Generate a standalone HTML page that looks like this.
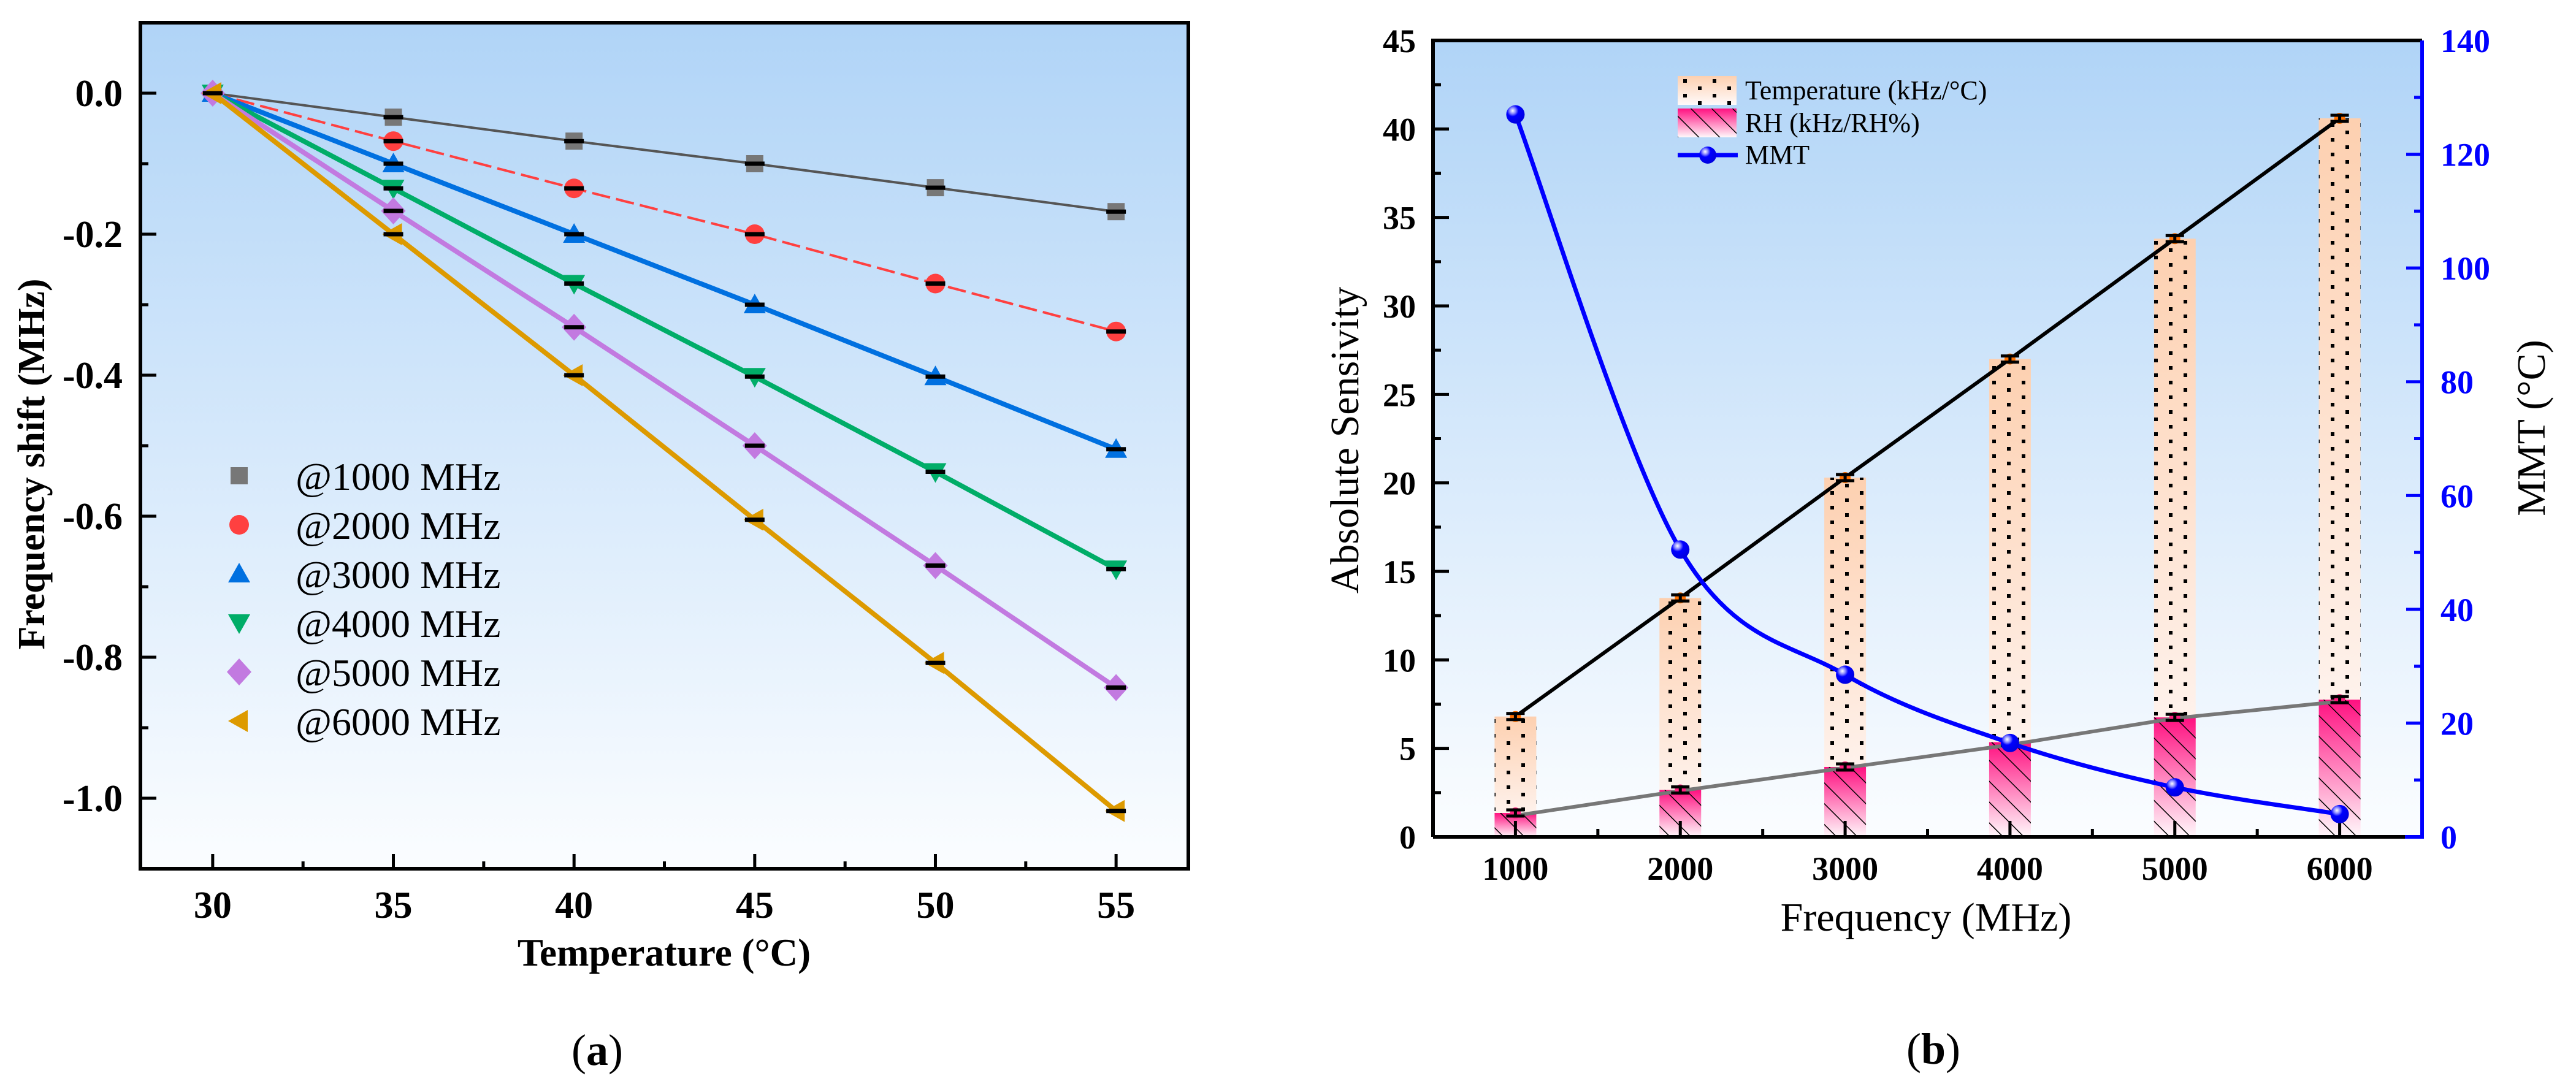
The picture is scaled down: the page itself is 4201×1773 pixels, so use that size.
<!DOCTYPE html>
<html><head><meta charset="utf-8">
<style>
html,body{margin:0;padding:0;background:#fff;}
svg{display:block;font-family:"Liberation Serif","DejaVu Serif",serif;}
</style></head>
<body>
<svg id="fig" width="4201" height="1773" viewBox="0 0 4201 1773" xmlns="http://www.w3.org/2000/svg">
<defs>
<linearGradient id="bg" x1="0" y1="0" x2="0" y2="1">
<stop offset="0" stop-color="#b0d4f7"/><stop offset="1" stop-color="#fbfdff"/>
</linearGradient>
<linearGradient id="tg" x1="0" y1="0" x2="0" y2="1">
<stop offset="0" stop-color="#fdd0b0"/><stop offset="1" stop-color="#fffafa"/>
</linearGradient>
<linearGradient id="rg" x1="0" y1="0" x2="0" y2="1">
<stop offset="0" stop-color="#ff1080"/><stop offset="1" stop-color="#fff8fb"/>
</linearGradient>
<pattern id="dots" patternUnits="userSpaceOnUse" width="48" height="24">
<rect x="9" y="9" width="6" height="6" fill="#000"/><rect x="33" y="-3" width="6" height="6" fill="#000"/><rect x="33" y="21" width="6" height="6" fill="#000"/>
</pattern>
<pattern id="hatch" patternUnits="userSpaceOnUse" width="24" height="24" patternTransform="rotate(-45)">
<line x1="0" y1="0" x2="0" y2="24" stroke="#000" stroke-width="3"/>
</pattern>
<radialGradient id="ball" cx="0.35" cy="0.3" r="0.7">
<stop offset="0" stop-color="#ffffff"/><stop offset="0.25" stop-color="#8080ff"/><stop offset="0.45" stop-color="#0000ff"/><stop offset="1" stop-color="#0000e0"/>
</radialGradient>
</defs>
<g id="pa"></g>
<g id="pb"></g>
</svg>
<script>
// ---------- Panel (a) data ----------
const tempsA = [30, 35, 40, 45, 50, 55];
const seriesNames = ["@1000 MHz","@2000 MHz","@3000 MHz","@4000 MHz","@5000 MHz","@6000 MHz"];
const s1000 = [0, -0.034, -0.068, -0.100, -0.134, -0.168];
const s2000 = [0, -0.068, -0.135, -0.200, -0.270, -0.338];
const s3000 = [0, -0.100, -0.200, -0.300, -0.402, -0.505];
const s4000 = [0, -0.135, -0.270, -0.402, -0.537, -0.675];
const s5000 = [0, -0.167, -0.332, -0.500, -0.670, -0.843];
const s6000 = [0, -0.200, -0.400, -0.605, -0.808, -1.018];
const xTicksA = [30, 35, 40, 45, 50, 55];
const yTicksA = [0, -0.2, -0.4, -0.6, -0.8, -1.0];
const yTickLabelsA = ["0.0","-0.2","-0.4","-0.6","-0.8","-1.0"];

// ---------- Panel (b) data ----------
const freqs = [1000, 2000, 3000, 4000, 5000, 6000];
const tempSens = [6.8, 13.5, 20.3, 27.0, 33.8, 40.6];
const rhSens = [1.35, 2.65, 3.95, 5.35, 6.75, 7.75];
const rhFit = [1.2, 2.6, 3.9, 5.2, 6.7, 7.65];
const mmt = [127, 50.5, 28.5, 16.5, 8.7, 4.0];
const yTicksB = [0,5,10,15,20,25,30,35,40,45];
const yTicksB2 = [0,20,40,60,80,100,120,140];

const NS = "http://www.w3.org/2000/svg";
function mk(parent, tag, attrs, text){
  const e = document.createElementNS(NS, tag);
  for (const k in attrs) e.setAttribute(k, attrs[k]);
  if (text !== undefined) e.textContent = text;
  parent.appendChild(e); return e;
}

// ===== Panel A =====
(function(){
  const g = document.getElementById('pa');
  const L=229, R=1938, T=37, B=1417;
  const xmin=28, xmax=57, ymin=-1.1, ymax=0.1;
  const X = v => L + (v - xmin) / (xmax - xmin) * (R - L);
  const Y = v => B - (v - ymin) / (ymax - ymin) * (B - T);
  const bg = mk(g,'rect',{x:L,y:T,width:R-L,height:B-T,fill:'url(#bg)'});
  
  
  for (let v = 30; v <= 55; v += 2.5) {
    const major = (v % 5 === 0);
    const t = mk(g,'line',{x1:X(v),x2:X(v),y1:B,y2:B-(major?24:12),stroke:'#000','stroke-width':5});
    
    
  }
  for (let v = 0; v >= -1.0001; v -= 0.1) {
    const major = Math.round(v*10) % 2 === 0;
    const t = mk(g,'line',{x1:L,x2:L+(major?26:13),y1:Y(v),y2:Y(v),stroke:'#000','stroke-width':5});
    
    
  }
  xTicksA.forEach(v=>{
    const t = mk(g,'text',{x:X(v),y:1497,'font-size':62,'font-weight':'bold','text-anchor':'middle'},String(v));
    
    
  });
  yTicksA.forEach((v,i)=>{
    const t = mk(g,'text',{x:200,y:Y(v)+21,'font-size':62,'font-weight':'bold','text-anchor':'end'},yTickLabelsA[i]);
    
    
  });
  const xt = mk(g,'text',{x:1083,y:1575,'font-size':63,'font-weight':'bold','text-anchor':'middle'},'Temperature (°C)');
  
  
  const yt = mk(g,'text',{x:0,y:0,'font-size':62,'font-weight':'bold','text-anchor':'middle',transform:'translate(72,'+((T+B)/2+30)+') rotate(-90)'},'Frequency shift (MHz)');
  
  
  const lab = mk(g,'text',{x:974,y:1737,'font-size':72,'text-anchor':'middle'});
  mk(lab,'tspan',{},'(');
  mk(lab,'tspan',{'font-weight':'bold'},'a');
  mk(lab,'tspan',{},')');
  
  

  const all = [s1000,s2000,s3000,s4000,s5000,s6000];
  const cols = ['#555555','#ff4040','#0070e0','#00ad68','#c27ae0','#dd9a00'];
  const lw = [4,4,8,8,8,8];
  function marker(par, k, cx, cy){
    const c = cols[k]; let m;
    if (k===0) m = mk(par,'rect',{x:cx-14,y:cy-14,width:28,height:28,fill:'#777'});
    else if (k===1) m = mk(par,'circle',{cx:cx,cy:cy,r:16,fill:c});
    else if (k===2) m = mk(par,'polygon',{points:`${cx},${cy-18} ${cx+18},${cy+14} ${cx-18},${cy+14}`,fill:c});
    else if (k===3) m = mk(par,'polygon',{points:`${cx},${cy+18} ${cx+18},${cy-14} ${cx-18},${cy-14}`,fill:c});
    else if (k===4) m = mk(par,'polygon',{points:`${cx},${cy-22} ${cx+20},${cy} ${cx},${cy+22} ${cx-20},${cy}`,fill:c});
    else m = mk(par,'polygon',{points:`${cx-18},${cy} ${cx+14},${cy-18} ${cx+14},${cy+18}`,fill:c});
    return m;
  }
  all.forEach((s,k)=>{
    const sg = mk(g,'g',{});
    
    
    const pts = s.map((v,i)=>X(tempsA[i])+','+Y(v)).join(' ');
    const ln = mk(sg,'polyline',{points:pts,fill:'none',stroke:cols[k],'stroke-width':lw[k],'stroke-dasharray':k===1?'30 10':'none'});
    
    
    s.forEach((v,i)=>{
      const m = marker(sg,k,X(tempsA[i]),Y(v));
      
      
      const e = mk(sg,'line',{x1:X(tempsA[i])-16,x2:X(tempsA[i])+16,y1:Y(v),y2:Y(v),stroke:'#000','stroke-width':7});
      
      
    });
  });
  const lg = mk(g,'g',{});
  
  
  seriesNames.forEach((n,k)=>{
    const cy = 776 + k*80;
    const m = marker(lg,k,390,cy);
    
    
    const t = mk(lg,'text',{x:482,y:cy+23,'font-size':64},n);
    
    
  });
  const fr = mk(g,'rect',{x:L,y:T,width:R-L,height:B-T,fill:'none',stroke:'#000','stroke-width':6});
  
  
})();

// ===== Panel B =====
(function(){
  const g = document.getElementById('pb');
  const L=2337, R=3950, T=66, B=1365;
  const xmin=500, xmax=6500;
  const X = v => L + (v - xmin)/(xmax-xmin)*(R-L);
  const Y = v => B - v/45*(B-T);
  const Y2 = v => B - v/140*(B-T);
  const bg = mk(g,'rect',{x:L,y:T,width:R-L,height:B-T,fill:'url(#bg)'});
  
  
  const bw = 68;
  freqs.forEach((f,i)=>{
    const bx = X(f)-bw/2;
    const tb = mk(g,'rect',{x:bx,y:Y(tempSens[i]),width:bw,height:B-Y(tempSens[i]),fill:'url(#tg)'});
    
    
    const td = mk(g,'rect',{x:bx,y:Y(tempSens[i]),width:bw,height:Y(rhSens[i])-Y(tempSens[i]),fill:'url(#dots)'});
    
    
    const rb = mk(g,'rect',{x:bx,y:Y(rhSens[i]),width:bw,height:B-Y(rhSens[i]),fill:'url(#rg)'});
    
    
    const rh = mk(g,'rect',{x:bx,y:Y(rhSens[i]),width:bw,height:B-Y(rhSens[i]),fill:'url(#hatch)'});
    
    
  });
  for (let v=1000; v<=6500; v+=500){
    const major = v%1000===0;
    const t = mk(g,'line',{x1:X(v),x2:X(v),y1:B,y2:B-(major?26:13),stroke:'#000','stroke-width':5});
    
    
  }
  for (let v=0; v<=45; v+=2.5){
    const major = v%5===0;
    const t = mk(g,'line',{x1:L,x2:L+(major?26:13),y1:Y(v),y2:Y(v),stroke:'#000','stroke-width':5});
    
    
  }
  for (let v=0; v<=140; v+=10){
    const major = v%20===0;
    const t = mk(g,'line',{x1:R,x2:R-(major?26:13),y1:Y2(v),y2:Y2(v),stroke:'#0000ff','stroke-width':5});
    
    
  }
  const tl = mk(g,'polyline',{points:tempSens.map((v,i)=>X(freqs[i])+','+Y(v)).join(' '),fill:'none',stroke:'#000','stroke-width':6});
  
  
  const rl = mk(g,'polyline',{points:rhFit.map((v,i)=>X(freqs[i])+','+Y(v)).join(' '),fill:'none',stroke:'#777','stroke-width':6});
  
  
  freqs.forEach((f,i)=>{
    [[tempSens[i],'#ff7000'],[rhSens[i],'#ff2080']].forEach(([v,c])=>{
      const d = mk(g,'circle',{cx:X(f),cy:Y(v),r:9,fill:c});
      
      
      const e = mk(g,'path',{d:`M${X(f)-15},${Y(v)-5}h30M${X(f)-15},${Y(v)+5}h30M${X(f)},${Y(v)-5}v10`,stroke:'#000','stroke-width':5,fill:'none'});
      
      
    });
  });
  const P = freqs.map((f,i)=>[X(f),Y2(mmt[i])]);
  let d = `M${P[0][0]},${P[0][1]}`;
  for (let i=0;i<P.length-1;i++){
    const p0=P[Math.max(0,i-1)], p1=P[i], p2=P[i+1], p3=P[Math.min(P.length-1,i+2)];
    const c1=[p1[0]+(p2[0]-p0[0])/6, p1[1]+(p2[1]-p0[1])/6];
    const c2=[p2[0]-(p3[0]-p1[0])/6, p2[1]-(p3[1]-p1[1])/6];
    d += ` C${c1[0]},${c1[1]} ${c2[0]},${c2[1]} ${p2[0]},${p2[1]}`;
  }
  const mc = mk(g,'path',{d:d,fill:'none',stroke:'#0000ff','stroke-width':7});
  
  
  P.forEach(p=>{
    const b = mk(g,'circle',{cx:p[0],cy:p[1],r:15,fill:'url(#ball)'});
    
    
  });
  const ax = mk(g,'path',{d:`M${L},${B}V${T}H${R}`,fill:'none',stroke:'#000','stroke-width':6});
  
  
  const bx = mk(g,'line',{x1:L,x2:R-25,y1:B,y2:B,stroke:'#000','stroke-width':6});
  
  
  const ra = mk(g,'path',{d:`M${R-28},${B}H${R}V${T}`,fill:'none',stroke:'#0000ff','stroke-width':6});
  
  
  freqs.forEach(f=>{
    const t = mk(g,'text',{x:X(f),y:1435,'font-size':54,'font-weight':'bold','text-anchor':'middle'},String(f));
    
    
  });
  yTicksB.forEach(v=>{
    const t = mk(g,'text',{x:2309,y:Y(v)+19,'font-size':54,'font-weight':'bold','text-anchor':'end'},String(v));
    
    
  });
  yTicksB2.forEach(v=>{
    const t = mk(g,'text',{x:3980,y:Y2(v)+19,'font-size':54,'font-weight':'bold',fill:'#0000ff'},String(v));
    
    
  });
  const xt = mk(g,'text',{x:3141,y:1518,'font-size':66,'text-anchor':'middle'},'Frequency (MHz)');
  
  
  const yt = mk(g,'text',{x:0,y:0,'font-size':66,'text-anchor':'middle',transform:'translate(2215,718) rotate(-90)'},'Absolute Sensivity');
  
  
  const y2t = mk(g,'text',{x:0,y:0,'font-size':66,'text-anchor':'middle',transform:'translate(4150,698) rotate(-90)'},'MMT (°C)');
  
  
  const lab = mk(g,'text',{x:3153,y:1735,'font-size':72,'text-anchor':'middle'});
  mk(lab,'tspan',{},'(');
  mk(lab,'tspan',{'font-weight':'bold'},'b');
  mk(lab,'tspan',{},')');
  
  
  const lg = mk(g,'g',{});
  
  
  const s1 = mk(lg,'rect',{x:2736,y:124,width:96,height:47,fill:'url(#tg)'});
  
  
  const s1p = mk(lg,'rect',{x:2736,y:124,width:96,height:47,fill:'url(#dots)'});
  
  
  const s2 = mk(lg,'rect',{x:2736,y:177,width:96,height:47,fill:'url(#rg)'});
  
  
  const s2p = mk(lg,'rect',{x:2736,y:177,width:96,height:47,fill:'url(#hatch)'});
  
  
  const s3 = mk(lg,'line',{x1:2736,x2:2834,y1:253,y2:253,stroke:'#0000ff','stroke-width':7});
  
  
  const s3b = mk(lg,'circle',{cx:2785,cy:253,r:14,fill:'url(#ball)'});
  
  
  [['Temperature (kHz/°C)',162],['RH (kHz/RH%)',215],['MMT',267]].forEach(([t,y])=>{
    const e = mk(lg,'text',{x:2846,y:y,'font-size':44},t);
    
    
  });
})();
</script>
</body></html>
